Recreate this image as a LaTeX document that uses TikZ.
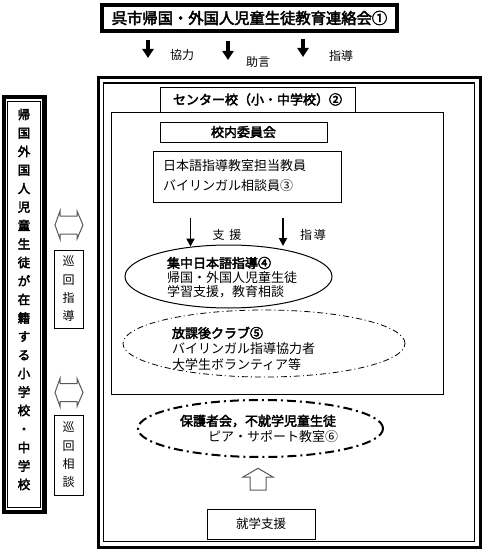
\documentclass[tikz,border=0pt]{standalone}
\usepackage{fontspec}
\setmainfont[BoldFont=*,BoldFeatures={FakeBold=3}]{Noto Sans CJK JP}
\usetikzlibrary{arrows.meta,shapes.geometric}
\begin{document}
\begin{tikzpicture}[x=1pt,y=-1pt,
  every node/.style={inner sep=0pt, outer sep=0pt},
  thinbox/.style={draw, line width=1pt},
  txt/.style={font=\fontsize{13}{15}\selectfont, anchor=west},
  btxt/.style={font=\bfseries\fontsize{13}{15}\selectfont, anchor=west},
  lbl/.style={font=\fontsize{12}{13}\selectfont},
  bigarrow/.style={line width=3.3pt, -{Triangle[width=11pt,length=9pt]}},
  smallarrow/.style={line width=1.8pt, -{Triangle[width=8pt,length=8pt]}},
  hollow/.style={draw=gray!70!black, line width=1pt, fill=white},
  vtext/.style={align=center, font=\fontsize{12}{18.3}\selectfont},
]
\useasboundingbox (0,0) rectangle (484,551);

% title
\node[draw, line width=4pt, minimum width=295pt, minimum height=26pt,
  font=\bfseries\fontsize{15.3}{15.3}\selectfont] (title) at (249.5,18) {呉市帰国・外国人児童生徒教育連絡会①};

% top arrows and labels
\coordinate (a1s) at (148,40); \coordinate (a1e) at (148,58);
\coordinate (a2s) at (228,41); \coordinate (a2e) at (228,60);
\coordinate (a3s) at (303,39); \coordinate (a3e) at (303,57);
\draw[bigarrow] (a1s) -- (a1e);
\draw[bigarrow] (a2s) -- (a2e);
\draw[bigarrow] (a3s) -- (a3e);
\node[lbl] (l1) at (182,55) {協力};
\node[lbl] (l2) at (258,62) {助言};
\node[lbl] (l3) at (341,56) {指導};

% big outer double box
\node[draw, line width=3pt, minimum width=382pt, minimum height=470pt] (outer) at (289,312) {};
\node[draw, line width=1.8pt, minimum width=371pt, minimum height=458.5pt] (outerin) at (289,312.25) {};

% centre school tab and inner box
\node[thinbox, minimum width=332pt, minimum height=282pt] (inner) at (277,253) {};
\node[thinbox, fill=white, minimum width=195pt, minimum height=25pt,
  font=\bfseries\fontsize{13}{13}\selectfont] (center) at (257.5,99.5) {センター校（小・中学校）②};

\node[thinbox, minimum width=167pt, minimum height=20pt,
  font=\bfseries\fontsize{13}{13}\selectfont] (iin) at (243.5,132) {校内委員会};

\node[thinbox, minimum width=188pt, minimum height=51pt] (staff) at (247,176.5) {};
\node[txt] (s1) at (163,166) {日本語指導教室担当教員};
\node[txt] (s2) at (163,186) {バイリンガル相談員③};

% support arrows
\coordinate (b1s) at (190.5,218); \coordinate (b1e) at (190.5,246.5);
\coordinate (b2s) at (283,218); \coordinate (b2e) at (283,246);
\draw[smallarrow] (b1s) -- (b1e);
\draw[smallarrow] (b2s) -- (b2e);
\node[lbl] (l4) at (227,235) {支\hspace{5pt}援};
\node[lbl] (l5) at (313,235) {指\hspace{2pt}導};

% ellipse 4
\node[draw, ellipse, line width=1pt, minimum width=207pt, minimum height=63pt] (e4) at (228.5,276.5) {};
\node[btxt] (e4a) at (167,263) {集中日本語指導④};
\node[txt] (e4b) at (167,277.5) {帰国・外国人児童生徒};
\node[txt] (e4c) at (167,292) {学習支援，教育相談};

% ellipse 5
\node[draw, ellipse, line width=0.8pt, dash pattern=on 6pt off 3pt on 1pt off 3pt,
  minimum width=282pt, minimum height=67pt] (e5) at (264,343.5) {};
\node[btxt] (e5a) at (172,333) {放課後クラブ⑤};
\node[txt] (e5b) at (172,348.5) {バイリンガル指導協力者};
\node[txt] (e5c) at (172,365) {大学生ボランティア等};

% ellipse 6
\node[draw, ellipse, line width=2pt, dash pattern=on 9pt off 4pt on 2pt off 4pt,
  minimum width=245pt, minimum height=57pt] (e6) at (260.5,428.5) {};
\node[btxt] (e6a) at (180,421) {保護者会，不就学児童生徒};
\node[txt] (e6b) at (208,437) {ピア・サポート教室⑥};

% hollow up arrow
\draw[hollow] (258,468.3) -- (273,477) -- (266,477) -- (266,490) -- (250,490) -- (250,477) -- (243,477) -- cycle;

% school support box
\node[thinbox, minimum width=108pt, minimum height=30pt,
  font=\fontsize{12.5}{13}\selectfont] (shuugaku) at (261,524) {就学支援};

% left box
\node[draw, line width=4.3pt, minimum width=40.8pt, minimum height=414.7pt] (lout) at (24.1,304.35) {};
\node[draw, line width=1pt, minimum width=32.5pt, minimum height=406.6pt] (lin) at (24.05,304.5) {};
\node[align=center, font=\bfseries\fontsize{12.5}{18.5}\selectfont] (ltext) at (24,299.5)
  {帰\\国\\外\\国\\人\\児\\童\\生\\徒\\が\\在\\籍\\す\\る\\小\\学\\校\\・\\中\\学\\校};

% hollow double arrows
\draw[hollow] (55,225) -- (60,211) -- (60,216) -- (77,216) -- (77,211) -- (83,225)
  -- (77,239) -- (77,234) -- (60,234) -- (60,239) -- cycle;
\draw[hollow] (55,392.5) -- (60,378.5) -- (60,383.5) -- (77,383.5) -- (77,378.5) -- (83,392.5)
  -- (77,406.5) -- (77,401.5) -- (60,401.5) -- (60,406.5) -- cycle;

% patrol boxes
\node[thinbox, vtext, minimum width=29pt, minimum height=78pt] (j1) at (68.5,289) {巡\\回\\指\\導};
\node[thinbox, vtext, minimum width=29pt, minimum height=80pt] (j2) at (68.5,455) {巡\\回\\相\\談};

\end{tikzpicture}
\end{document}
